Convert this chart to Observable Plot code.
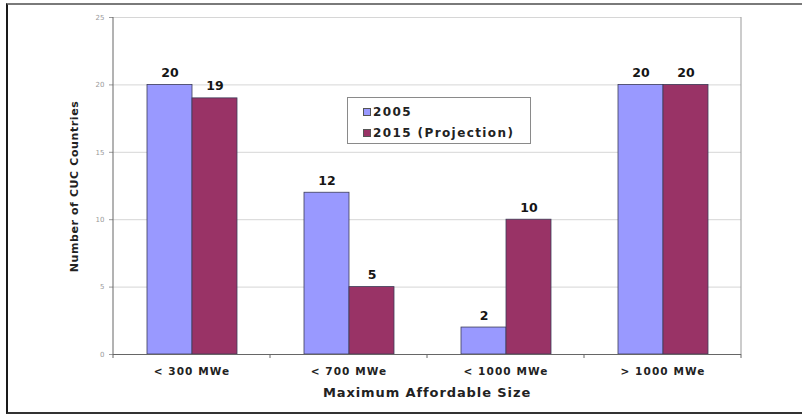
<!DOCTYPE html>
<html>
<head>
<meta charset="utf-8">
<script src="https://cdn.jsdelivr.net/npm/d3@7"></script>
<script src="https://cdn.jsdelivr.net/npm/@observablehq/plot@0.6"></script>
<style>
  html, body { margin: 0; padding: 0; background: #fff; }
  #wrap { position: relative; width: 802px; height: 414px; overflow: hidden; font-family: "DejaVu Sans", Arial, sans-serif; }
  #frame { position: absolute; left: 6px; top: 3px; width: 800px; height: 407px;
           border-left: 2px solid #1a1a1a; border-top: 2px solid #7a7a7a; border-bottom: 2px solid #333; box-sizing: content-box; pointer-events: none; }
  #legend { position: absolute; left: 347px; top: 97px; width: 184px; height: 47px; border: 1px solid #8a8a8a; background: #fff;
            box-sizing: border-box; padding: 3px 0 0 15px; font-weight: bold; font-size: 12px; letter-spacing: 1.4px; color: #222; }
  #legend .row { display: flex; align-items: center; height: 21px; }
  #legend .sw { width: 8px; height: 8px; border: 1px solid #555; margin-right: 2px; box-sizing: border-box; }
  g[aria-label="fx-axis tick label"] text { letter-spacing: 1.1px; }
  .axis-title-y { letter-spacing: 0.6px; }
  .axis-title-x { letter-spacing: 0.9px; }
</style>
</head>
<body>
<div id="wrap">
  <div id="chart"></div>
  <div id="legend"></div>
  <div id="frame"></div>
</div>
<script>
// Countries (CUC) grouped by the largest power plant they can afford
const categories = ["< 300 MWe", "< 700 MWe", "< 1000 MWe", "> 1000 MWe"];
const seriesNames = ["2005", "2015 (Projection)"];
const values2005 = [20, 12, 2, 20];
const values2015 = [19, 5, 10, 20];
const seriesColors = ["#9999ff", "#993366"];
const yTicks = [0, 5, 10, 15, 20, 25];

const data = categories.flatMap((cat, i) => [
  {cat, series: seriesNames[0], value: values2005[i]},
  {cat, series: seriesNames[1], value: values2015[i]}
]);

const chart = Plot.plot({
  width: 802,
  height: 414,
  marginLeft: 112,
  marginRight: 61,
  marginTop: 17,
  marginBottom: 60,
  style: {fontFamily: "'DejaVu Sans', Arial, sans-serif", background: "transparent"},
  fx: {domain: categories, padding: 0},
  x: {domain: seriesNames, paddingInner: 0, paddingOuter: 0.725, axis: null},
  y: {domain: [0, 25]},
  color: {domain: seriesNames, range: seriesColors},
  marks: [
    Plot.gridY(yTicks, {stroke: "#d6d6d6", strokeOpacity: 1}),
    Plot.barY(data, {fx: "cat", x: "series", y: "value", fill: "series", stroke: "#3c3c58", strokeWidth: 0.8}),
    Plot.text(data, {fx: "cat", x: "series", y: "value", text: d => String(d.value), dy: -12,
                     fontWeight: "bold", fontSize: 12.5, fill: "#151515"}),
    Plot.ruleY([0], {stroke: "#666"}),
    Plot.axisY({ticks: yTicks, tickSize: 4, tickPadding: 5, fontSize: 7, color: "#9a9a9a", label: null}),
    Plot.axisFx({anchor: "bottom", tickSize: 0, tickPadding: 13, fontSize: 10.5, fontWeight: "bold", fill: "#222", label: null})
  ]
});
document.getElementById("chart").appendChild(chart);

// Axis lines, category separators and axis titles drawn from the plot's scales
const svg = d3.select(chart);
const y = chart.scale("y");
const y0 = y.apply(0), yTop = y.apply(25);
const fx = chart.scale("fx");
const left = fx.apply(categories[0]);
const bounds = categories.map(c => fx.apply(c)).concat([fx.apply(categories[categories.length - 1]) + fx.bandwidth]);

const g = svg.append("g");
g.append("line").attr("x1", left).attr("x2", left).attr("y1", yTop).attr("y2", y0).attr("stroke", "#666");
g.append("line").attr("x1", bounds[bounds.length - 1]).attr("x2", bounds[bounds.length - 1])
  .attr("y1", yTop).attr("y2", y0).attr("stroke", "#999");
bounds.forEach(b => {
  g.append("line").attr("x1", b).attr("x2", b).attr("y1", y0).attr("y2", y0 + 4).attr("stroke", "#666");
});
g.append("text").attr("class", "axis-title-y")
  .attr("transform", `translate(75,${(y0 + yTop) / 2 + 1}) rotate(-90)`)
  .attr("text-anchor", "middle").attr("dominant-baseline", "middle")
  .attr("font-weight", "bold").attr("font-size", 11).attr("fill", "#222")
  .text("Number of CUC Countries");
g.append("text").attr("class", "axis-title-x")
  .attr("x", (bounds[0] + bounds[bounds.length - 1]) / 2).attr("y", y0 + 39)
  .attr("text-anchor", "middle").attr("dominant-baseline", "middle")
  .attr("font-weight", "bold").attr("font-size", 13).attr("fill", "#222")
  .text("Maximum Affordable Size");

// Legend
const legend = d3.select("#legend");
seriesNames.forEach((name, i) => {
  const row = legend.append("div").attr("class", "row");
  row.append("div").attr("class", "sw").style("background", seriesColors[i]);
  row.append("span").text(name);
});
</script>
</body>
</html>
